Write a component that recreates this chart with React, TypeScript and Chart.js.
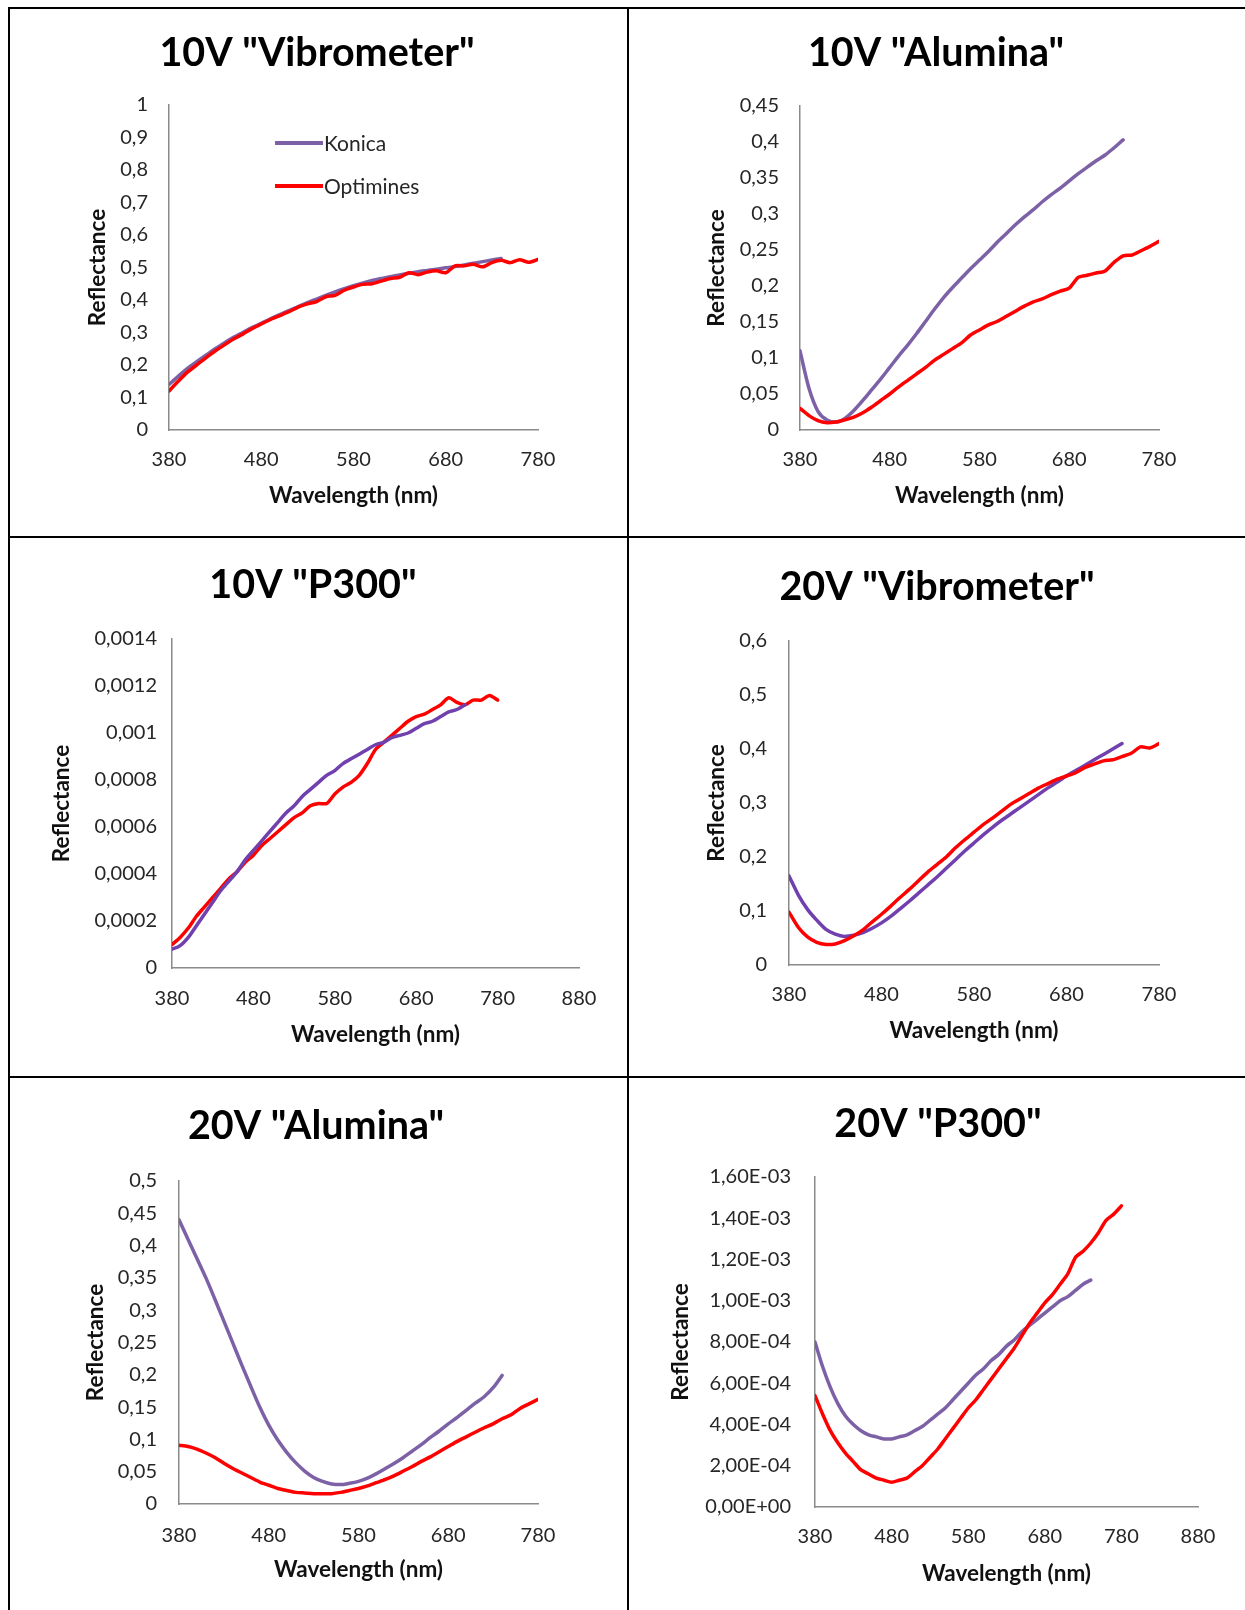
import React, { useEffect, useRef } from "react";
import { Chart, registerables } from "chart.js";

Chart.register(...registerables);

const FONT = "Lato, 'Open Sans', 'DejaVu Sans', sans-serif";

// ---------- shared axes ----------
const KONICA_WL = [380, 390, 400, 410, 420, 430, 440, 450, 460, 470, 480, 490, 500, 510, 520, 530, 540, 550, 560, 570, 580, 590, 600, 610, 620, 630, 640, 650, 660, 670, 680, 690, 700, 710, 720, 730, 740];
const OPTIMINES_WL = [380, 390, 400, 410, 420, 430, 440, 450, 460, 470, 480, 490, 500, 510, 520, 530, 540, 550, 560, 570, 580, 590, 600, 610, 620, 630, 640, 650, 660, 670, 680, 690, 700, 710, 720, 730, 740, 750, 760, 770, 780];

const X_TICKS_780 = [380, 480, 580, 680, 780];
const X_TICKS_880 = [380, 480, 580, 680, 780, 880];

const SERIES_NAMES = ["Konica", "Optimines"];
const TITLES = ['10V "Vibrometer"', '10V "Alumina"', '10V "P300"', '20V "Vibrometer"', '20V "Alumina"', '20V "P300"'];
const X_TITLE = "Wavelength (nm)";
const Y_TITLE = "Reflectance";

// ---------- 10V Vibrometer ----------
const V10_VIB_KONICA = [0.14, 0.165, 0.19, 0.21, 0.23, 0.25, 0.268, 0.285, 0.3, 0.315, 0.328, 0.342, 0.355, 0.367, 0.38, 0.392, 0.403, 0.414, 0.425, 0.435, 0.444, 0.452, 0.46, 0.466, 0.472, 0.477, 0.482, 0.487, 0.491, 0.495, 0.499, 0.503, 0.508, 0.513, 0.518, 0.523, 0.528];
const V10_VIB_OPTIMINES = [0.12, 0.15, 0.178, 0.2, 0.222, 0.243, 0.262, 0.28, 0.295, 0.312, 0.326, 0.34, 0.352, 0.364, 0.378, 0.388, 0.395, 0.41, 0.414, 0.43, 0.44, 0.448, 0.45, 0.458, 0.466, 0.47, 0.484, 0.478, 0.486, 0.49, 0.484, 0.505, 0.505, 0.51, 0.502, 0.515, 0.522, 0.515, 0.524, 0.516, 0.525];
const V10_VIB_Y_TICKS = [0, 0.1, 0.2, 0.3, 0.4, 0.5, 0.6, 0.7, 0.8, 0.9, 1];
const V10_VIB_Y_LABELS = ["0", "0,1", "0,2", "0,3", "0,4", "0,5", "0,6", "0,7", "0,8", "0,9", "1"];

// ---------- 10V Alumina ----------
const V10_ALU_KONICA = [0.11, 0.058, 0.026, 0.014, 0.011, 0.016, 0.027, 0.041, 0.056, 0.071, 0.087, 0.103, 0.118, 0.134, 0.151, 0.168, 0.184, 0.198, 0.211, 0.224, 0.236, 0.248, 0.261, 0.273, 0.285, 0.296, 0.306, 0.317, 0.327, 0.336, 0.346, 0.356, 0.365, 0.374, 0.382, 0.392, 0.403];
const V10_ALU_OPTIMINES = [0.03, 0.02, 0.013, 0.01, 0.011, 0.014, 0.018, 0.024, 0.032, 0.041, 0.05, 0.06, 0.069, 0.078, 0.087, 0.097, 0.105, 0.113, 0.121, 0.132, 0.139, 0.146, 0.151, 0.158, 0.165, 0.172, 0.178, 0.182, 0.188, 0.193, 0.197, 0.212, 0.215, 0.218, 0.221, 0.233, 0.242, 0.243, 0.249, 0.255, 0.262];
const V10_ALU_Y_TICKS = [0, 0.05, 0.1, 0.15, 0.2, 0.25, 0.3, 0.35, 0.4, 0.45];
const V10_ALU_Y_LABELS = ["0", "0,05", "0,1", "0,15", "0,2", "0,25", "0,3", "0,35", "0,4", "0,45"];

// ---------- 10V P300 ----------
const V10_P300_KONICA = [0.00008, 0.000095, 0.00013, 0.00018, 0.00023, 0.00028, 0.00033, 0.00037, 0.00041, 0.00046, 0.0005, 0.00054, 0.00058, 0.00062, 0.00066, 0.00069, 0.00073, 0.00076, 0.00079, 0.00082, 0.00084, 0.00087, 0.00089, 0.00091, 0.00093, 0.00095, 0.00096, 0.00098, 0.00099, 0.001, 0.00102, 0.00104, 0.00105, 0.00107, 0.00109, 0.0011, 0.00112];
const V10_P300_OPTIMINES = [0.0001, 0.00013, 0.00017, 0.00022, 0.00026, 0.0003, 0.00034, 0.00038, 0.00041, 0.00045, 0.00048, 0.00052, 0.00055, 0.00058, 0.00061, 0.00064, 0.00066, 0.00069, 0.0007, 0.0007, 0.00074, 0.00077, 0.00079, 0.00082, 0.00087, 0.00093, 0.00096, 0.00099, 0.00102, 0.00105, 0.00107, 0.00108, 0.0011, 0.00112, 0.00115, 0.00113, 0.00112, 0.00114, 0.00114, 0.00116, 0.00114];
const V10_P300_Y_TICKS = [0, 0.0002, 0.0004, 0.0006, 0.0008, 0.001, 0.0012, 0.0014];
const V10_P300_Y_LABELS = ["0", "0,0002", "0,0004", "0,0006", "0,0008", "0,001", "0,0012", "0,0014"];

// ---------- 20V Vibrometer ----------
const V20_VIB_KONICA = [0.165, 0.13, 0.103, 0.083, 0.066, 0.057, 0.053, 0.055, 0.06, 0.068, 0.078, 0.09, 0.104, 0.118, 0.133, 0.148, 0.163, 0.179, 0.195, 0.211, 0.226, 0.241, 0.255, 0.268, 0.28, 0.292, 0.304, 0.316, 0.328, 0.339, 0.35, 0.36, 0.37, 0.38, 0.39, 0.4, 0.41];
const V20_VIB_OPTIMINES = [0.098, 0.07, 0.052, 0.042, 0.038, 0.039, 0.045, 0.054, 0.065, 0.08, 0.094, 0.109, 0.125, 0.14, 0.156, 0.172, 0.186, 0.2, 0.217, 0.232, 0.246, 0.26, 0.272, 0.285, 0.298, 0.308, 0.318, 0.328, 0.336, 0.344, 0.35, 0.356, 0.366, 0.372, 0.378, 0.38, 0.386, 0.392, 0.404, 0.402, 0.41];
const V20_VIB_Y_TICKS = [0, 0.1, 0.2, 0.3, 0.4, 0.5, 0.6];
const V20_VIB_Y_LABELS = ["0", "0,1", "0,2", "0,3", "0,4", "0,5", "0,6"];

// ---------- 20V Alumina ----------
const V20_ALU_KONICA = [0.44, 0.41, 0.38, 0.35, 0.317, 0.283, 0.249, 0.215, 0.182, 0.15, 0.122, 0.099, 0.08, 0.064, 0.051, 0.041, 0.035, 0.031, 0.03, 0.032, 0.035, 0.04, 0.047, 0.055, 0.063, 0.072, 0.082, 0.092, 0.103, 0.113, 0.124, 0.134, 0.145, 0.156, 0.166, 0.18, 0.199];
const V20_ALU_OPTIMINES = [0.091, 0.089, 0.085, 0.079, 0.072, 0.063, 0.055, 0.048, 0.041, 0.034, 0.029, 0.024, 0.021, 0.018, 0.017, 0.016, 0.016, 0.016, 0.018, 0.021, 0.024, 0.028, 0.033, 0.038, 0.044, 0.051, 0.058, 0.066, 0.073, 0.081, 0.089, 0.097, 0.104, 0.111, 0.118, 0.124, 0.132, 0.138, 0.148, 0.155, 0.162];
const V20_ALU_Y_TICKS = [0, 0.05, 0.1, 0.15, 0.2, 0.25, 0.3, 0.35, 0.4, 0.45, 0.5];
const V20_ALU_Y_LABELS = ["0", "0,05", "0,1", "0,15", "0,2", "0,25", "0,3", "0,35", "0,4", "0,45", "0,5"];

// ---------- 20V P300 ----------
const V20_P300_KONICA = [0.0008, 0.00068, 0.00058, 0.0005, 0.00044, 0.0004, 0.00037, 0.00035, 0.00034, 0.00033, 0.00033, 0.00034, 0.00035, 0.00037, 0.00039, 0.00042, 0.00045, 0.00048, 0.00052, 0.00056, 0.0006, 0.00064, 0.00067, 0.00071, 0.00074, 0.00078, 0.00081, 0.00085, 0.00088, 0.00091, 0.00094, 0.00097, 0.001, 0.00102, 0.00105, 0.00108, 0.0011];
const V20_P300_OPTIMINES = [0.00054, 0.00045, 0.00037, 0.00031, 0.00026, 0.00022, 0.00018, 0.00016, 0.00014, 0.00013, 0.00012, 0.00013, 0.00014, 0.00017, 0.0002, 0.00024, 0.00028, 0.00033, 0.00038, 0.00043, 0.00048, 0.00052, 0.00057, 0.00062, 0.00067, 0.00072, 0.00077, 0.00083, 0.00089, 0.00094, 0.00099, 0.00103, 0.00108, 0.00113, 0.00121, 0.00124, 0.00128, 0.00133, 0.00139, 0.00142, 0.00146];
const V20_P300_Y_TICKS = [0, 0.0002, 0.0004, 0.0006, 0.0008, 0.001, 0.0012, 0.0014, 0.0016];
const V20_P300_Y_LABELS = ["0,00E+00", "2,00E-04", "4,00E-04", "6,00E-04", "8,00E-04", "1,00E-03", "1,20E-03", "1,40E-03", "1,60E-03"];

// ---------- styling ----------
const PURPLE_SOFT = "#7D61A6";
const PURPLE_DEEP = "#7040AE";
const RED = "#FF0000";
const AXIS_COLOR = "#8a8a8a";
const TICK_COLOR = "#262626";
const TITLE_SIZE = 39.5;
const TICK_SIZE = 20;
const AXIS_TITLE_SIZE = 22.5;
const LEGEND_SIZE = 21;
const X_AXIS_BOX = 90;
const LEFT_PAD = 40;

type Geom = {
  left: number; top: number; right: number; bottom: number;
  titleX: number; titleY: number; yTitleX: number;
  cellTop: number; canvasRight: number;
  yTickPad: number; xLabelDy: number; xTitleDy: number;
};

type Spec = {
  title: string;
  konica: number[];
  optimines: number[];
  konicaColor: string;
  konicaOnTop: boolean;
  xMax: number;
  xTicks: number[];
  yTicks: number[];
  yLabels: string[];
  legend: boolean;
  geom: Geom;
};

const SPECS: Spec[] = [
  {
    title: TITLES[0], konica: V10_VIB_KONICA, optimines: V10_VIB_OPTIMINES, konicaColor: PURPLE_SOFT, konicaOnTop: false,
    xMax: 780, xTicks: X_TICKS_780, yTicks: V10_VIB_Y_TICKS, yLabels: V10_VIB_Y_LABELS, legend: true,
    geom: { left: 169, top: 105, right: 538, bottom: 430, titleX: 317, titleY: 53, yTitleX: 98, cellTop: 10, canvasRight: 626, yTickPad: 21, xLabelDy: 30, xTitleDy: 66 },
  },
  {
    title: TITLES[1], konica: V10_ALU_KONICA, optimines: V10_ALU_OPTIMINES, konicaColor: PURPLE_SOFT, konicaOnTop: false,
    xMax: 780, xTicks: X_TICKS_780, yTicks: V10_ALU_Y_TICKS, yLabels: V10_ALU_Y_LABELS, legend: false,
    geom: { left: 800, top: 106, right: 1159, bottom: 430, titleX: 936, titleY: 53, yTitleX: 717, cellTop: 10, canvasRight: 1244, yTickPad: 21, xLabelDy: 30, xTitleDy: 66 },
  },
  {
    title: TITLES[2], konica: V10_P300_KONICA, optimines: V10_P300_OPTIMINES, konicaColor: PURPLE_DEEP, konicaOnTop: true,
    xMax: 880, xTicks: X_TICKS_880, yTicks: V10_P300_Y_TICKS, yLabels: V10_P300_Y_LABELS, legend: false,
    geom: { left: 172, top: 639, right: 579, bottom: 968, titleX: 313, titleY: 585, yTitleX: 62, cellTop: 540, canvasRight: 626, yTickPad: 15, xLabelDy: 31, xTitleDy: 67 },
  },
  {
    title: TITLES[3], konica: V20_VIB_KONICA, optimines: V20_VIB_OPTIMINES, konicaColor: PURPLE_DEEP, konicaOnTop: false,
    xMax: 780, xTicks: X_TICKS_780, yTicks: V20_VIB_Y_TICKS, yLabels: V20_VIB_Y_LABELS, legend: false,
    geom: { left: 789, top: 641, right: 1159, bottom: 965, titleX: 937, titleY: 587, yTitleX: 717, cellTop: 540, canvasRight: 1244, yTickPad: 22, xLabelDy: 30, xTitleDy: 66 },
  },
  {
    title: TITLES[4], konica: V20_ALU_KONICA, optimines: V20_ALU_OPTIMINES, konicaColor: PURPLE_SOFT, konicaOnTop: false,
    xMax: 780, xTicks: X_TICKS_780, yTicks: V20_ALU_Y_TICKS, yLabels: V20_ALU_Y_LABELS, legend: false,
    geom: { left: 179, top: 1181, right: 538, bottom: 1504, titleX: 316, titleY: 1126, yTitleX: 96, cellTop: 1079, canvasRight: 626, yTickPad: 22, xLabelDy: 32, xTitleDy: 66 },
  },
  {
    title: TITLES[5], konica: V20_P300_KONICA, optimines: V20_P300_OPTIMINES, konicaColor: PURPLE_SOFT, konicaOnTop: false,
    xMax: 880, xTicks: X_TICKS_880, yTicks: V20_P300_Y_TICKS, yLabels: V20_P300_Y_LABELS, legend: false,
    geom: { left: 815, top: 1177, right: 1198, bottom: 1507, titleX: 938, titleY: 1124, yTitleX: 681, cellTop: 1079, canvasRight: 1244, yTickPad: 24, xLabelDy: 30, xTitleDy: 67 },
  },
];

const insideLegend = {
  id: "insideLegend",
  afterDatasetsDraw(chart: any, _args: any, opts: any) {
    if (!opts || !opts.show) return;
    const { ctx, chartArea } = chart;
    ctx.save();
    chart.data.datasets.forEach((ds: any, i: number) => {
      const x0 = chartArea.left + opts.dx;
      const y = chartArea.top + opts.dy + i * opts.gap;
      ctx.strokeStyle = ds.borderColor;
      ctx.lineWidth = 4;
      ctx.lineCap = "butt";
      ctx.beginPath();
      ctx.moveTo(x0, y);
      ctx.lineTo(x0 + opts.lineLen, y);
      ctx.stroke();
      ctx.fillStyle = TICK_COLOR;
      ctx.font = `${LEGEND_SIZE}px ${FONT}`;
      ctx.textAlign = "left";
      ctx.textBaseline = "middle";
      ctx.fillText(ds.label, x0 + opts.lineLen + 1, y + 1);
    });
    ctx.restore();
  },
};

function Panel({ spec }: { spec: Spec }) {
  const ref = useRef<HTMLCanvasElement | null>(null);
  const g = spec.geom;
  const cl = Math.round(2 * g.titleX - g.right); // left edge of y-axis box
  const canvasLeft = cl - LEFT_PAD;
  const ct = g.cellTop;
  const width = g.canvasRight - canvasLeft;
  const height = g.bottom + X_AXIS_BOX - ct;

  useEffect(() => {
    if (!ref.current) return;
    const titleLH = TITLE_SIZE * 1.2;
    const tpTop = g.titleY - ct - titleLH / 2;
    const tpBottom = g.top - ct - tpTop - titleLH;
    const axisLH = AXIS_TITLE_SIZE * 1.2;
    const tickLH = TICK_SIZE * 1.2;

    const chart = new Chart(ref.current, {
      type: "line",
      data: {
        datasets: [
          {
            label: SERIES_NAMES[0],
            data: KONICA_WL.map((x, i) => ({ x, y: spec.konica[i] })),
            borderColor: spec.konicaColor,
            backgroundColor: spec.konicaColor,
            borderWidth: 3.5,
            pointRadius: 0,
            cubicInterpolationMode: "monotone",
            borderCapStyle: "round",
            borderJoinStyle: "round",
            fill: false,
            order: spec.konicaOnTop ? 0 : 1,
          },
          {
            label: SERIES_NAMES[1],
            data: OPTIMINES_WL.map((x, i) => ({ x, y: spec.optimines[i] })),
            borderColor: RED,
            backgroundColor: RED,
            borderWidth: 3.5,
            pointRadius: 0,
            tension: 0.25,
            borderCapStyle: "round",
            borderJoinStyle: "round",
            fill: false,
            order: spec.konicaOnTop ? 1 : 0,
          },
        ],
      },
      options: {
        responsive: false,
        maintainAspectRatio: false,
        animation: false,
        devicePixelRatio: 1,
        layout: { padding: { left: LEFT_PAD, top: 0, right: g.canvasRight - g.right, bottom: 0 } },
        plugins: {
          legend: { display: false },
          tooltip: { enabled: false },
          title: {
            display: true,
            text: spec.title,
            color: "#000",
            font: { family: FONT, size: TITLE_SIZE, weight: "bold", lineHeight: 1.2 },
            padding: { top: tpTop, bottom: tpBottom },
          },
          insideLegend: { show: spec.legend, dx: 106, dy: 38, gap: 43, lineLen: 48 },
        } as any,
        scales: {
          x: {
            type: "linear",
            min: 380,
            max: spec.xMax,
            afterBuildTicks: (s: any) => {
              s.ticks = spec.xTicks.map((v) => ({ value: v }));
            },
            afterFit: (s: any) => {
              s.height = X_AXIS_BOX;
            },
            ticks: {
              autoSkip: false,
              maxRotation: 0,
              padding: g.xLabelDy - tickLH / 2,
              color: TICK_COLOR,
              font: { family: FONT, size: TICK_SIZE },
              callback: (v: any) => String(v),
            },
            grid: { display: false, drawTicks: false },
            border: { display: true, color: AXIS_COLOR, width: 1.5 },
            title: {
              display: true,
              text: X_TITLE,
              color: "#111",
              font: { family: FONT, size: AXIS_TITLE_SIZE, weight: "bold", lineHeight: 1.2 },
              padding: { top: 0, bottom: X_AXIS_BOX - g.xTitleDy - axisLH / 2 },
            },
          },
          y: {
            type: "linear",
            min: spec.yTicks[0],
            max: spec.yTicks[spec.yTicks.length - 1],
            afterBuildTicks: (s: any) => {
              s.ticks = spec.yTicks.map((v) => ({ value: v }));
            },
            afterFit: (s: any) => {
              s.width = g.left - cl;
            },
            ticks: {
              autoSkip: false,
              padding: g.yTickPad,
              color: TICK_COLOR,
              font: { family: FONT, size: TICK_SIZE },
              callback: (_v: any, i: number) => spec.yLabels[i],
            },
            grid: { display: false, drawTicks: false },
            border: { display: true, color: AXIS_COLOR, width: 1.5 },
            title: {
              display: true,
              text: Y_TITLE,
              color: "#111",
              font: { family: FONT, size: AXIS_TITLE_SIZE, weight: "bold", lineHeight: 1.2 },
              padding: { top: g.yTitleX - cl - axisLH / 2, bottom: 0 },
            },
          },
        },
      } as any,
      plugins: [insideLegend as any],
    });
    return () => chart.destroy();
  }, []);

  return (
    <canvas
      ref={ref}
      width={width}
      height={height}
      style={{ position: "absolute", left: canvasLeft, top: ct, width, height }}
    />
  );
}

const line = (left: number, top: number, w: number, h: number) => (
  <div style={{ position: "absolute", left, top, width: w, height: h, background: "#000" }} />
);

export default function App() {
  return (
    <div
      style={{
        position: "absolute",
        left: 0,
        top: 0,
        width: 1245,
        height: 1610,
        background: "#fff",
        overflow: "hidden",
      }}
    >
      {SPECS.map((s, i) => (
        <Panel key={i} spec={s} />
      ))}
      {line(8, 7, 1237, 2)}
      {line(8, 536, 1237, 2)}
      {line(8, 1076, 1237, 2)}
      {line(8, 7, 2, 1603)}
      {line(627, 7, 2, 1603)}
    </div>
  );
}
